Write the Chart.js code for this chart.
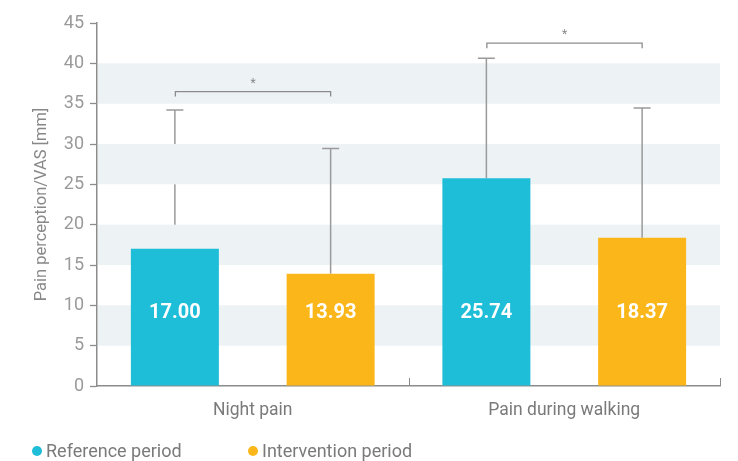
<!DOCTYPE html>
<html>
<head>
<meta charset="utf-8">
<script src="https://cdn.jsdelivr.net/npm/chart.js@4"></script>
<style>
  html, body { margin: 0; padding: 0; background: #fff; }
  #wrap { width: 738px; height: 461px; }
</style>
</head>
<body>
<div id="wrap"><canvas id="painChart" width="738" height="461"></canvas></div>
<script>
// pain scores (VAS, mm)
const categories = ['Night pain', 'Pain during walking'];
const referenceMeans = [17.00, 25.74];
const interventionMeans = [13.93, 18.37];
const referenceSD = [17.2, 14.9];
const interventionSD = [15.5, 16.1];
// significance brackets: height on the y scale, one per category
const bracketLevels = [36.5, 42.5];
const bracketMarks = ['*', '*'];
const yTicks = [0, 5, 10, 15, 20, 25, 30, 35, 40, 45];

const teal = '#1ebdd8';
const amber = '#fbb719';
const gray = '#8c8c8c';
const textGray = '#7a7a7a';
const fontFamily = 'Roboto, "DejaVu Sans", sans-serif';

function drawWhisker(chart, di, i) {
  const ctx = chart.ctx;
  const bar = chart.getDatasetMeta(di).data[i];
  const y = chart.scales.y;
  const ds = chart.data.datasets[di];
  const top = y.getPixelForValue(ds.data[i] + ds.sd[i]);
  ctx.save();
  ctx.strokeStyle = '#9a9a9a';
  ctx.lineWidth = 1.5;
  ctx.beginPath();
  ctx.moveTo(bar.x, bar.y);
  ctx.lineTo(bar.x, top);
  ctx.moveTo(bar.x - 8.5, top);
  ctx.lineTo(bar.x + 8.5, top);
  ctx.stroke();
  ctx.restore();
}

const decorPlugin = {
  id: 'decor',
  beforeDatasetsDraw(chart) {
    const { ctx, chartArea: a, scales: { y } } = chart;
    // whisker that sits under the shaded bands
    chart.data.datasets.forEach((ds, di) => {
      ds.data.forEach((v, i) => { if (ds.underBands[i]) drawWhisker(chart, di, i); });
    });
    // alternating bands
    ctx.save();
    ctx.fillStyle = '#edf2f5';
    for (let v = 5; v < 45; v += 10) {
      const t = y.getPixelForValue(v + 5);
      const b = y.getPixelForValue(v);
      ctx.fillRect(a.left + 1, t, a.right - a.left - 1, b - t);
    }
    ctx.restore();
    chart.data.datasets.forEach((ds, di) => {
      ds.data.forEach((v, i) => { if (!ds.underBands[i]) drawWhisker(chart, di, i); });
    });
  },
  afterDatasetsDraw(chart) {
    const { ctx, chartArea: a, scales: { x, y } } = chart;
    const m0 = chart.getDatasetMeta(0).data;
    const m1 = chart.getDatasetMeta(1).data;
    ctx.save();
    // value labels inside bars
    ctx.fillStyle = '#fff';
    ctx.font = 'bold 20px ' + fontFamily;
    ctx.textAlign = 'center';
    ctx.textBaseline = 'middle';
    chart.data.datasets.forEach((ds, di) => {
      chart.getDatasetMeta(di).data.forEach((bar, i) => {
        ctx.fillText(ds.data[i].toFixed(2), bar.x, y.getPixelForValue(9));
      });
    });
    // significance brackets
    ctx.strokeStyle = gray;
    ctx.lineWidth = 1.3;
    ctx.fillStyle = '#888';
    ctx.font = '12px ' + fontFamily;
    bracketLevels.forEach((lvl, i) => {
      const py = y.getPixelForValue(lvl);
      const x0 = m0[i].x + 0.5, x1 = m1[i].x;
      ctx.beginPath();
      ctx.moveTo(x0, py + 5);
      ctx.lineTo(x0, py);
      ctx.lineTo(x1, py);
      ctx.lineTo(x1, py + 5);
      ctx.stroke();
      ctx.fillText(bracketMarks[i], (x0 + x1) / 2, py - 8);
    });
    // small inward ticks on the x axis between/after categories
    ctx.strokeStyle = gray;
    ctx.lineWidth = 1;
    const half = (x.getPixelForValue(1) - x.getPixelForValue(0)) / 2;
    categories.forEach((c, i) => {
      const px = Math.round(x.getPixelForValue(i) + half) + 0.5;
      ctx.beginPath();
      ctx.moveTo(px, a.bottom);
      ctx.lineTo(px, a.bottom - 8);
      ctx.stroke();
    });
    ctx.restore();
  },
  afterDraw(chart) {
    // legend
    const ctx = chart.ctx;
    const spots = chart.options.plugins.decor.legendSpots;
    ctx.save();
    ctx.font = '18px ' + fontFamily;
    ctx.textBaseline = 'middle';
    ctx.textAlign = 'left';
    chart.data.datasets.forEach((ds, di) => {
      const [lx, ly] = spots[di];
      ctx.fillStyle = ds.backgroundColor;
      ctx.beginPath();
      ctx.arc(lx, ly, 5, 0, Math.PI * 2);
      ctx.fill();
      ctx.fillStyle = textGray;
      ctx.fillText(ds.label, lx + 9, ly + 1);
    });
    ctx.restore();
  }
};

new Chart(document.getElementById('painChart'), {
  type: 'bar',
  data: {
    labels: categories,
    datasets: [{
      label: 'Reference period',
      data: referenceMeans,
      sd: referenceSD,
      underBands: [true, false],
      backgroundColor: teal,
      borderWidth: 0
    }, {
      label: 'Intervention period',
      data: interventionMeans,
      sd: interventionSD,
      underBands: [false, false],
      backgroundColor: amber,
      borderWidth: 0
    }]
  },
  options: {
    responsive: false,
    animation: false,
    barPercentage: 0.565,
    categoryPercentage: 1.0,
    layout: { padding: { top: 23, right: 18, bottom: 35, left: 0 } },
    plugins: {
      legend: { display: false },
      tooltip: { enabled: false },
      decor: { legendSpots: [[37, 451], [253, 451]] }
    },
    scales: {
      x: {
        grid: { display: false, drawTicks: false },
        border: { color: gray, width: 1.5 },
        ticks: { color: textGray, font: { family: fontFamily, size: 17.5 }, padding: 14 },
        afterFit(scale) { scale.height = 40; }
      },
      y: {
        min: 0,
        max: 45,
        afterBuildTicks(scale) { scale.ticks = yTicks.map(v => ({ value: v })); },
        grid: { drawOnChartArea: false, tickLength: 7, tickColor: gray, tickWidth: 1.3 },
        border: { color: gray, width: 1.5 },
        ticks: { color: '#9a9a9a', font: { family: fontFamily, size: 18 }, padding: 6 },
        title: {
          display: true,
          text: 'Pain perception/VAS [mm]',
          color: '#888',
          font: { family: fontFamily, size: 16.5 },
          padding: { top: 32, bottom: 0 }
        },
        afterFit(scale) { scale.width = 97; }
      }
    }
  },
  plugins: [decorPlugin]
});
</script>
</body>
</html>
